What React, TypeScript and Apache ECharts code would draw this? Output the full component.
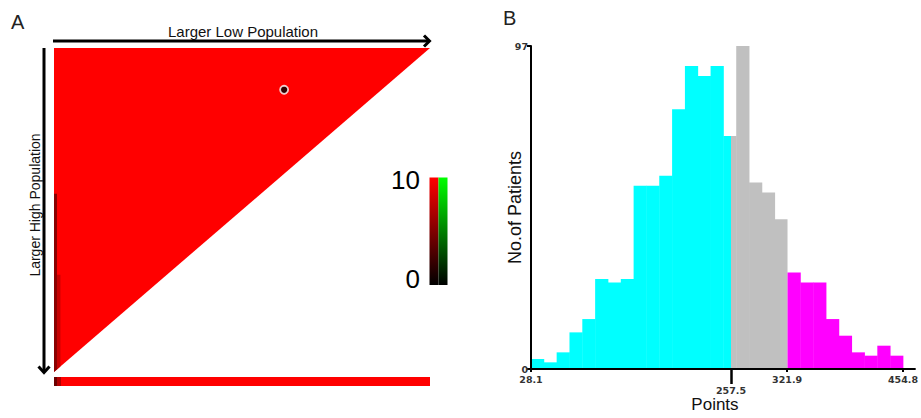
import React, { useEffect, useRef } from 'react';
import * as echarts from 'echarts';

// ---------- Panel B data (histogram) ----------
const binStart = 28.1;
const binEnd = 454.8;
const binCounts = [3, 2, 5, 11, 15, 27, 26, 27, 55, 55, 58, 78, 91, 88, 91, 70, 97, 56, 53, 45, 29, 26, 26, 15, 10, 5, 4, 7, 4];
const groupBreaks = [257.5, 321.9];
const groupColors = ['#00ffff', '#c0c0c0', '#ff00ff'];
const xTickValues = [28.1, 321.9, 454.8];
const xLongTickValues = [257.5];
const yTickValues = [0, 97];

// ---------- Panel A data ----------
const triangle = [[0, 0], [1, 0], [0, 1]];
const darkStrips = [
  [[0, 0.45], [0.008, 0.45], [0.008, 0.992], [0, 1]],
  [[0.008, 0.7], [0.017, 0.7], [0.017, 0.983], [0.008, 0.992]],
];
const markerPoint = [[0.612, 0.129]];
const colorbarLabels = ['10', '0'];

const FONT = 'Liberation Sans, Arial, sans-serif';
const TICKFONT = 'DejaVu Sans, Verdana, sans-serif';

function buildSegments() {
  const w = (binEnd - binStart) / binCounts.length;
  const segs: number[][] = [];
  binCounts.forEach((c, i) => {
    const a = binStart + i * w;
    const b = a + w;
    const cuts = [a, ...groupBreaks.filter((t) => t > a && t < b), b];
    for (let k = 0; k < cuts.length - 1; k++) {
      const s = cuts[k];
      const e = cuts[k + 1];
      if (e - s < 1) continue;
      const mid = (s + e) / 2;
      const g = groupBreaks.filter((t) => t <= mid).length;
      segs.push([s, e, c, g]);
    }
  });
  return segs;
}

export default function App() {
  const ref = useRef<HTMLDivElement>(null);
  useEffect(() => {
    if (!ref.current) return;
    const chart = echarts.init(ref.current, null, { renderer: 'svg' });
    const segs = buildSegments();
    const stripColors = ['#8a0000', '#c80000'];

    chart.setOption({
      animation: false,
      backgroundColor: '#ffffff',
      grid: [
        { left: 531, top: 46, right: 3, bottom: 41, containLabel: false },
        { left: 54, top: 48, width: 376, height: 324, containLabel: false },
      ],
      xAxis: [
        {
          type: 'value', gridIndex: 0, min: 28.1, max: 468.5, z: 10,
          axisLine: { show: true, lineStyle: { color: '#000', width: 2 } },
          splitLine: { show: false },
          axisTick: { show: true, customValues: xTickValues, length: 3, lineStyle: { color: '#000', width: 2 } },
          axisLabel: { customValues: xTickValues, margin: 5, fontSize: 9.5, fontWeight: 'bold', color: '#333', fontFamily: TICKFONT },
          name: 'Points', nameLocation: 'middle', nameGap: 27, nameMoveOverlap: false,
          nameTextStyle: { fontSize: 17, color: '#111', fontFamily: FONT, padding: [0, 16, 0, 0] },
        },
        {
          type: 'value', gridIndex: 0, min: 28.1, max: 468.5, position: 'bottom', z: 10,
          axisLine: { show: false },
          splitLine: { show: false },
          axisTick: { show: true, customValues: xLongTickValues, length: 15, lineStyle: { color: '#000', width: 2.5 } },
          axisLabel: { customValues: xLongTickValues, margin: 16, fontSize: 9.5, fontWeight: 'bold', color: '#333', fontFamily: TICKFONT },
        },
        { type: 'value', gridIndex: 1, min: 0, max: 1, show: false },
      ],
      yAxis: [
        {
          type: 'value', gridIndex: 0, min: 0, max: 97, z: 10,
          axisLine: { show: true, lineStyle: { color: '#000', width: 2 } },
          splitLine: { show: false },
          axisTick: { show: true, customValues: yTickValues, length: 4, lineStyle: { color: '#000', width: 2 } },
          axisLabel: { customValues: yTickValues, margin: 3, fontSize: 9.5, fontWeight: 'bold', color: '#333', fontFamily: TICKFONT, padding: [0, 0, 3, 0] },
          name: 'No.of Patients', nameLocation: 'middle', nameGap: 7, nameMoveOverlap: false,
          nameTextStyle: { fontSize: 18, color: '#111', fontFamily: FONT },
        },
        { type: 'value', gridIndex: 1, min: 0, max: 1, inverse: true, show: false },
      ],
      series: [
        {
          type: 'custom', xAxisIndex: 0, yAxisIndex: 0,
          data: segs,
          encode: { x: [0, 1], y: 2 },
          renderItem: (params: any, api: any) => {
            const p0 = api.coord([api.value(0), api.value(2)]);
            const p1 = api.coord([api.value(1), 0]);
            return {
              type: 'rect',
              shape: { x: p0[0], y: p0[1], width: p1[0] - p0[0] + 0.4, height: p1[1] - p0[1] },
              style: { fill: groupColors[api.value(3)] },
            };
          },
        },
        {
          type: 'custom', xAxisIndex: 2, yAxisIndex: 1,
          data: [0],
          renderItem: (params: any, api: any) => {
            const children: any[] = [
              { type: 'polygon', shape: { points: triangle.map((p) => api.coord(p)) }, style: { fill: '#ff0000' } },
            ];
            darkStrips.forEach((s, i) => {
              children.push({ type: 'polygon', shape: { points: s.map((p) => api.coord(p)) }, style: { fill: stripColors[i] } });
            });
            return { type: 'group', children };
          },
        },
        {
          type: 'scatter', xAxisIndex: 2, yAxisIndex: 1,
          data: markerPoint,
          symbolSize: 8,
          itemStyle: { color: '#000', borderColor: '#fff', borderWidth: 1.8 },
          z: 5,
        },
      ],
      graphic: [
        { type: 'text', left: 11, top: 12, style: { text: 'A', fontSize: 20, fill: '#222', fontFamily: FONT } },
        { type: 'text', left: 503, top: 8, style: { text: 'B', fontSize: 20, fill: '#222', fontFamily: FONT } },
        { type: 'text', x: 243, y: 31, style: { text: 'Larger Low Population', fontSize: 15, fill: '#111', fontFamily: FONT, align: 'center', verticalAlign: 'middle' } },
        { type: 'text', x: 35, y: 205, rotation: Math.PI / 2, style: { text: 'Larger High Population', fontSize: 14, fill: '#111', fontFamily: FONT, align: 'center', verticalAlign: 'middle' } },
        // horizontal arrow
        { type: 'line', shape: { x1: 53, y1: 41, x2: 429, y2: 41 }, style: { stroke: '#000', lineWidth: 3 } },
        { type: 'polyline', shape: { points: [[424, 35.5], [429.5, 41], [424, 46.5]] }, style: { stroke: '#000', lineWidth: 3, fill: null } },
        // vertical arrow
        { type: 'line', shape: { x1: 44, y1: 48, x2: 44, y2: 372 }, style: { stroke: '#000', lineWidth: 3 } },
        { type: 'polyline', shape: { points: [[38.5, 366.5], [44, 372.5], [49.5, 366.5]] }, style: { stroke: '#000', lineWidth: 3, fill: null } },
        // bottom bar
        { type: 'rect', shape: { x: 54, y: 377, width: 376, height: 9 }, style: { fill: '#ff0000' } },
        { type: 'rect', shape: { x: 54, y: 377, width: 3, height: 9 }, style: { fill: '#6a0000' } },
        { type: 'rect', shape: { x: 57, y: 377, width: 4, height: 9 }, style: { fill: '#b00000' } },
        // colorbar
        {
          type: 'rect', shape: { x: 429.5, y: 177.5, width: 9, height: 107.5 },
          style: { fill: new echarts.graphic.LinearGradient(0, 0, 0, 1, [{ offset: 0, color: '#ff0000' }, { offset: 1, color: '#000000' }]) },
        },
        {
          type: 'rect', shape: { x: 438.5, y: 177.5, width: 9, height: 107.5 },
          style: { fill: new echarts.graphic.LinearGradient(0, 0, 0, 1, [{ offset: 0, color: '#00ff00' }, { offset: 1, color: '#000000' }]) },
        },
        { type: 'text', x: 420, y: 180, style: { text: colorbarLabels[0], fontSize: 26, fill: '#000', fontFamily: FONT, align: 'right', verticalAlign: 'middle' } },
        { type: 'text', x: 420, y: 279, style: { text: colorbarLabels[1], fontSize: 26, fill: '#000', fontFamily: FONT, align: 'right', verticalAlign: 'middle' } },
      ],
    });
    return () => chart.dispose();
  }, []);
  return <div ref={ref} style={{ position: 'fixed', left: 0, top: 0, width: 921, height: 418 }} />;
}
